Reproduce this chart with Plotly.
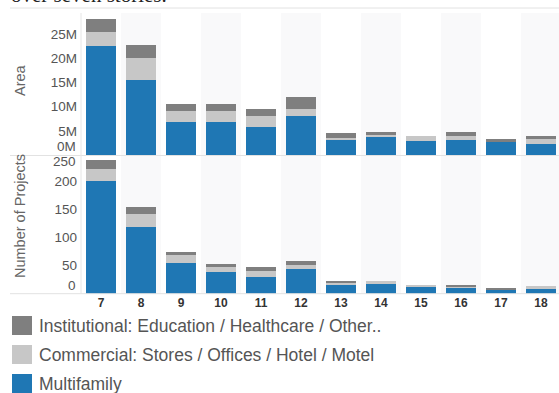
import plotly.graph_objects as go
from plotly.subplots import make_subplots

categories = [7, 8, 9, 10, 11, 12, 13, 14, 15, 16, 17, 18]
series_names = ["Multifamily", "Commercial: Stores / Offices / Hotel / Motel",
                "Institutional: Education / Healthcare / Other.."]
colors = ["#1f77b4", "#c7c7c7", "#7f7f7f"]

area_multifamily = [22.4e6, 15.5e6, 6.9e6, 6.9e6, 5.85e6, 8.1e6, 3.1e6, 3.7e6, 2.9e6, 3.1e6, 2.75e6, 2.2e6]
area_commercial = [2.9e6, 4.6e6, 2.2e6, 2.2e6, 2.25e6, 1.4e6, 0.35e6, 0.6e6, 1.1e6, 0.8e6, 0.0, 1.2e6]
area_institutional = [2.7e6, 2.6e6, 1.4e6, 1.4e6, 1.3e6, 2.55e6, 1.05e6, 0.4e6, 0.0, 0.8e6, 0.55e6, 0.5e6]

proj_multifamily = [201, 119, 54, 38, 30, 44, 16, 17, 12, 12, 9, 8]
proj_commercial = [22, 24, 16, 12, 11, 7, 4, 5, 4, 1, 0, 5]
proj_institutional = [16, 11, 4, 3, 6, 8, 2, 0, 0, 2, 1, 0]

area_ticks = [5e6, 10e6, 15e6, 20e6, 25e6]
area_ticktext = ["5M", "10M", "15M", "20M", "25M"]
proj_ticks = [50, 100, 150, 200]

W, H = 559, 393
FONT = "Arial, Liberation Sans, sans-serif"
TICK = 13.5

def py(px):
    return 1 - px / H

xs = list(range(len(categories)))

fig = make_subplots(rows=2, cols=1, shared_xaxes=True, vertical_spacing=0)

area_series = [area_multifamily, area_commercial, area_institutional]
proj_series = [proj_multifamily, proj_commercial, proj_institutional]
for name, col, a, p in zip(series_names, colors, area_series, proj_series):
    fig.add_trace(go.Bar(x=xs, y=a, name=name, marker=dict(color=col, line=dict(width=0)),
                         showlegend=False, width=0.75), row=1, col=1)
    fig.add_trace(go.Bar(x=xs, y=p, name=name, marker=dict(color=col, line=dict(width=0)),
                         showlegend=False, width=0.75), row=2, col=1)

top_t, top_b = 13, 155
bot_t, bot_b = 155.5, 293.7

fig.update_layout(
    width=W, height=H, margin=dict(l=81, r=0, t=0, b=0),
    barmode="stack", bargap=0.25,
    plot_bgcolor="rgba(0,0,0,0)", paper_bgcolor="white",
    font=dict(family=FONT, color="#555"),
    yaxis=dict(domain=[py(top_b), py(top_t)], range=[0, 29.3e6], tickvals=area_ticks,
               ticktext=area_ticktext, showgrid=False, zeroline=False, showline=False,
               tickfont=dict(size=TICK, color="#555"), ticks="", ticklabelstandoff=3),
    yaxis2=dict(domain=[py(bot_b), py(bot_t)], range=[0, 246.8], tickvals=proj_ticks,
                showgrid=False, zeroline=False, showline=False,
                tickfont=dict(size=TICK, color="#555"), ticks="", ticklabelstandoff=3),
    xaxis=dict(range=[-0.5, 11.45], showgrid=False, zeroline=False, showticklabels=False),
    xaxis2=dict(range=[-0.5, 11.45], tickvals=xs, ticktext=[str(c) for c in categories],
                showgrid=False, zeroline=False, ticks="",
                tickfont=dict(size=12, color="#333", family=FONT, weight="bold")),
)

plot_w = W - 81

def px_x(px):
    return (px - 81) / plot_w

shapes = []
# alternating column shading
for i in xs:
    if i % 2 == 1:
        shapes.append(dict(type="rect", xref="x", yref="paper", x0=i - 0.5, x1=i + 0.5,
                           y0=py(bot_b), y1=py(top_t), fillcolor="#f9f9fa",
                           line=dict(width=0), layer="below"))
# separator lines
for yy in [8, top_b + 0.5, bot_b]:
    shapes.append(dict(type="line", xref="paper", yref="paper", x0=px_x(10), x1=1,
                       y0=py(yy), y1=py(yy), line=dict(color="#e2e2e2", width=1)))
shapes.append(dict(type="line", xref="paper", yref="paper", x0=0, x1=0, y0=py(bot_b), y1=py(top_t),
                   line=dict(color="#e6e6e6", width=1)))

annotations = []
# shifted edge tick labels
for txt, yy in [("0M", 146), ("0", 285), ("250", 161.5)]:
    annotations.append(dict(text=txt, xref="paper", yref="paper", x=px_x(78), y=py(yy),
                            xanchor="right", yanchor="middle", showarrow=False,
                            font=dict(size=TICK, color="#555", family=FONT)))
# axis titles
annotations.append(dict(text="Area", xref="paper", yref="paper", x=px_x(20), y=py(80),
                        xanchor="center", yanchor="middle", textangle=-90, showarrow=False,
                        font=dict(size=14.5, color="#666", family=FONT)))
annotations.append(dict(text="Number of Projects", xref="paper", yref="paper", x=px_x(20),
                        y=py(216), xanchor="center", yanchor="middle", textangle=-90, showarrow=False,
                        font=dict(size=14.5, color="#666", family=FONT)))
# cut-off heading (partly above the top edge, as in the reference)
annotations.append(dict(text="over seven stories.", xref="paper", yref="paper", x=px_x(9),
                        y=py(-5), xanchor="left", yanchor="middle", showarrow=False,
                        font=dict(size=21, color="#222", family="Liberation Serif, Times New Roman, serif")))
# legend (manual)
legend_rows = [(series_names[2], colors[2], 316), (series_names[1], colors[1], 345),
               (series_names[0], colors[0], 374)]
for name, col, ytop in legend_rows:
    shapes.append(dict(type="rect", xref="paper", yref="paper", x0=px_x(12), x1=px_x(32),
                       y0=py(ytop + 19), y1=py(ytop), fillcolor=col, line=dict(width=0)))
    annotations.append(dict(text=name, xref="paper", yref="paper", x=px_x(37),
                            y=py(ytop + 10), xanchor="left", yanchor="middle", showarrow=False,
                            font=dict(size=17.5, color="#555", family=FONT)))
fig.update_layout(shapes=shapes, annotations=annotations)

fig.write_html("out.html")
